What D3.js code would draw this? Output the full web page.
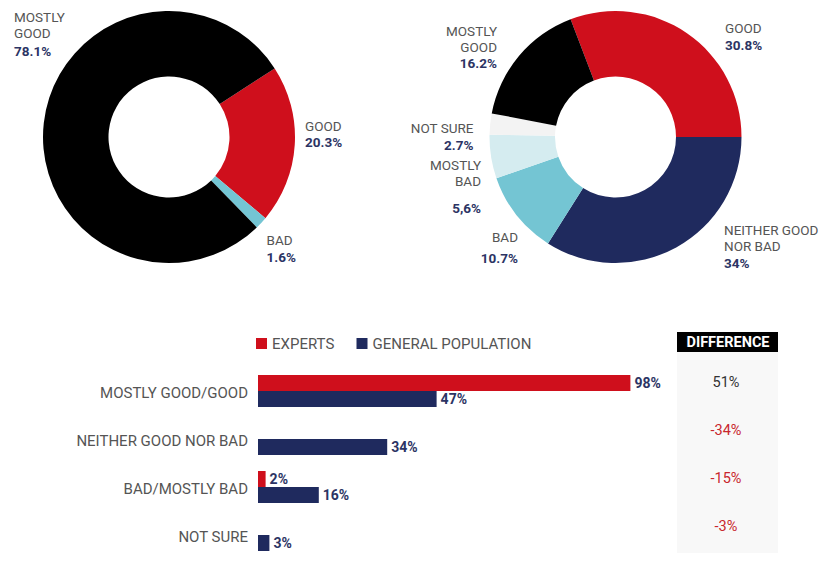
<!DOCTYPE html>
<html>
<head>
<meta charset="utf-8">
<script src="https://cdn.jsdelivr.net/npm/d3@7"></script>
<style>
  html, body { margin: 0; padding: 0; background: #fff; }
  svg { display: block; font-family: Roboto, "Noto Sans", sans-serif; }
</style>
</head>
<body>
<svg id="chart" width="824" height="565"></svg>
<script>
// Experts' view (left donut)
const expertCategories = ["GOOD", "BAD", "MOSTLY GOOD"];
const expertValues = [20.3, 1.6, 78.1];
const expertValueLabels = ["20.3%", "1.6%", "78.1%"];

// General population's view (right donut)
const publicCategories = ["GOOD", "NEITHER GOOD NOR BAD", "BAD", "MOSTLY BAD", "NOT SURE", "MOSTLY GOOD"];
const publicValues = [30.8, 34, 10.7, 5.6, 2.7, 16.2];
const publicValueLabels = ["30.8%", "34%", "10.7%", "5,6%", "2.7%", "16.2%"];

// Grouped bar comparison
const barCategories = ["MOSTLY GOOD/GOOD", "NEITHER GOOD NOR BAD", "BAD/MOSTLY BAD", "NOT SURE"];
const seriesNames = ["EXPERTS", "GENERAL POPULATION"];
const expertsShare = [98, 0, 2, 0];
const populationShare = [47, 34, 16, 3];
const differenceValues = [51, -34, -15, -3];

const RED = "#cf0f1c", NAVY = "#1f2a5e", BLACK = "#000000";
const CYAN = "#74c5d3", PALE_CYAN = "#d5ecf0", PALE_GREY = "#f3f3f3";
const LABEL_GREY = "#555", VALUE_NAVY = "#2c3464";

const svg = d3.select("#chart");

const expertColor = d3.scaleOrdinal().domain(expertCategories).range([RED, CYAN, BLACK]);
const publicColor = d3.scaleOrdinal().domain(publicCategories)
  .range([RED, NAVY, CYAN, PALE_CYAN, PALE_GREY, BLACK]);

function donut(cx, cy, cats, vals, color, startDeg) {
  const start = startDeg * Math.PI / 180;
  const pie = d3.pie().sort(null).value(d => d.v)
    .startAngle(start).endAngle(start + 2 * Math.PI);
  const arc = d3.arc().innerRadius(60.5).outerRadius(126);
  const g = svg.append("g").attr("transform", `translate(${cx},${cy})`);
  g.selectAll("path")
    .data(pie(cats.map((c, i) => ({ c, v: vals[i] }))))
    .join("path")
    .attr("d", arc)
    .attr("fill", d => color(d.data.c));
  return g;
}

// Left donut: GOOD wedge begins at the upper right
donut(169, 137, expertCategories, expertValues, expertColor, 57);
// Right donut: GOOD wedge ends at three o'clock
const goodShare = publicValues[0] / d3.sum(publicValues);
donut(615.5, 137, publicCategories, publicValues, publicColor, 90 - goodShare * 360);

// Donut callouts: text lines plus the value line
function callout(x, y, lines, value, anchor, valueGap) {
  const g = svg.append("g").attr("text-anchor", anchor).attr("font-size", 13.5);
  lines.forEach((t, i) => {
    g.append("text").attr("x", x).attr("y", y + i * 16).attr("dy", "0.35em")
      .attr("fill", LABEL_GREY).text(t);
  });
  g.append("text").attr("x", x).attr("y", y + (lines.length - 1) * 16 + valueGap)
    .attr("dy", "0.35em").attr("fill", VALUE_NAVY).attr("font-weight", 700).text(value);
}

callout(14, 17.5, ["MOSTLY", "GOOD"], expertValueLabels[2], "start", 18);
callout(305, 126, ["GOOD"], expertValueLabels[0], "start", 16.5);
callout(266.5, 240, ["BAD"], expertValueLabels[1], "start", 17);

callout(497, 31.5, ["MOSTLY", "GOOD"], publicValueLabels[5], "end", 15.5);
callout(725, 28.5, ["GOOD"], publicValueLabels[0], "start", 16.5);
callout(473.5, 128.5, ["NOT SURE"], publicValueLabels[4], "end", 17);
callout(481, 165, ["MOSTLY", "BAD"], publicValueLabels[3], "end", 27);
callout(518, 237, ["BAD"], publicValueLabels[2], "end", 21.5);
callout(724, 230, ["NEITHER GOOD", "NOR BAD"], publicValueLabels[1], "start", 17);

// ---- Grouped bars ----
const x = d3.scaleLinear().domain([0, 100]).range([258, 638]);
const y = d3.scaleBand().domain(barCategories).range([375, 567]);
const barH = 16;

// Difference column background and header, drawn beneath the row texts
svg.append("rect").attr("x", 677).attr("y", 352).attr("width", 101).attr("height", 201).attr("fill", "#f8f8f8");
svg.append("rect").attr("x", 677).attr("y", 332).attr("width", 101).attr("height", 20).attr("fill", "#000");
svg.append("text").attr("x", 728).attr("y", 342).attr("dy", "0.35em")
  .attr("text-anchor", "middle").attr("font-size", 14.5).attr("font-weight", 700)
  .attr("fill", "#fff").text("DIFFERENCE");

// Legend
const legend = svg.append("g").attr("font-size", 15);
[[256, RED, seriesNames[0]], [356.5, NAVY, seriesNames[1]]].forEach(([lx, c, name]) => {
  legend.append("rect").attr("x", lx).attr("y", 338).attr("width", 11).attr("height", 11).attr("fill", c);
  legend.append("text").attr("x", lx + 16).attr("y", 343.5).attr("dy", "0.35em")
    .attr("fill", LABEL_GREY).text(name);
});

const rows = barCategories.map((c, i) => ({ c, e: expertsShare[i], p: populationShare[i], d: differenceValues[i] }));

const row = svg.append("g").selectAll("g").data(rows).join("g")
  .attr("transform", d => `translate(0,${y(d.c)})`);

row.append("text").attr("x", 248).attr("y", 18).attr("dy", "0.35em")
  .attr("text-anchor", "end").attr("font-size", 15).attr("fill", LABEL_GREY)
  .text(d => d.c);

function bars(key, color, offset) {
  const sel = row.filter(d => d[key] > 0);
  sel.append("rect").attr("x", x(0)).attr("y", offset)
    .attr("width", d => x(d[key]) - x(0)).attr("height", barH).attr("fill", color);
  sel.append("text").attr("x", d => x(d[key]) + 4).attr("y", offset + barH / 2 + 0.5)
    .attr("dy", "0.35em").attr("font-size", 14).attr("font-weight", 700)
    .attr("fill", VALUE_NAVY).text(d => d[key] + "%");
}
bars("e", RED, 0);
bars("p", NAVY, barH);

// Difference values, one per row
row.append("text").attr("x", 726).attr("y", 7).attr("dy", "0.35em")
  .attr("text-anchor", "middle").attr("font-size", 14.5)
  .attr("fill", d => d.d < 0 ? "#c8262d" : "#333")
  .text(d => d.d + "%");
</script>
</body>
</html>
